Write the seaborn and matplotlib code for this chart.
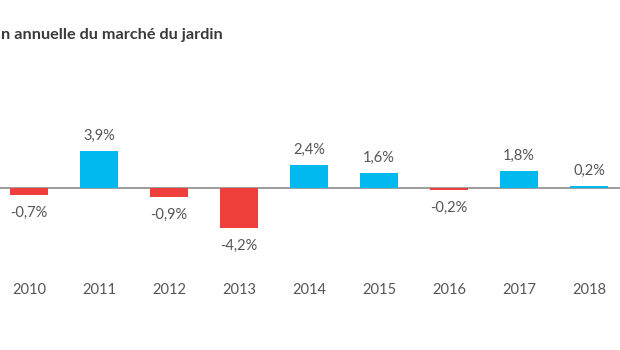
import matplotlib
matplotlib.use("Agg")
import matplotlib.pyplot as plt
import seaborn as sns
import pandas as pd

years = ["2010", "2011", "2012", "2013", "2014", "2015", "2016", "2017", "2018"]
growth = [-0.7, 3.9, -0.9, -4.2, 2.4, 1.6, -0.2, 1.8, 0.2]
# the reference is cropped on the left, only this part of the title shows
title = "n annuelle du marché du jardin"

blue = "#00b9ef"
red = "#ee3f3c"
text_col = "#555555"

sns.set_theme(style="white")
plt.rcParams["font.family"] = ["Lato", "DejaVu Sans"]

df = pd.DataFrame({"year": years, "growth": growth})
df["sign"] = ["pos" if v >= 0 else "neg" for v in growth]

fig = plt.figure(figsize=(6.2, 3.5), dpi=100)
ax = fig.add_axes([0, 80 / 350, 1, 210 / 350])

sns.barplot(data=df, x="year", y="growth", hue="sign", order=years,
            palette={"pos": blue, "neg": red}, dodge=False, width=0.53,
            legend=False, ax=ax, saturation=1, linewidth=0)

ax.axhline(0, color="#8c8c8c", lw=1.2, zorder=0.5)
ax.set_xlim(-29 / 70, 591 / 70)
ax.set_ylim(-82 / 9.5, 128 / 9.5)

for i, v in enumerate(growth):
    lab = f"{v:.1f}%".replace(".", ",")
    off = 11 if v >= 0 else -13
    ax.annotate(lab, (i, v), xytext=(0, off), textcoords="offset points",
                ha="center", va="center", fontsize=10.5, color=text_col)

ax.set_xlabel("")
ax.set_ylabel("")
ax.set_yticks([])
ax.tick_params(axis="x", length=0, pad=9, labelsize=10.5, labelcolor=text_col)
sns.despine(ax=ax, left=True, bottom=True)

fig.text(1 / 620, 1 - 35 / 350, title, ha="left", va="center",
         fontsize=11.7, fontweight="bold", color="#3a3a3a")

fig.savefig("out.png", dpi=100)
